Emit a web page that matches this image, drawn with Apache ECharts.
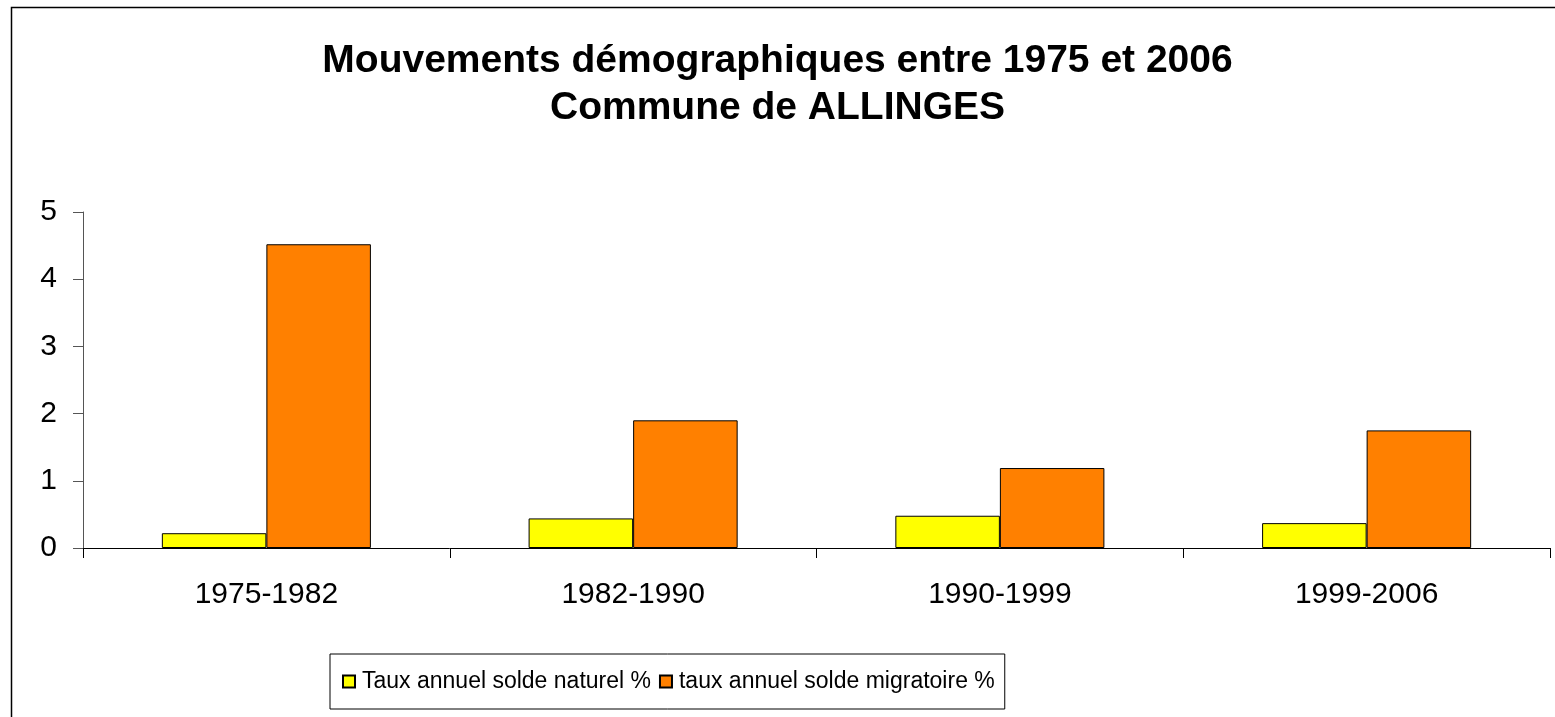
<!DOCTYPE html>
<html>
<head>
<meta charset="utf-8">
<script src="https://cdn.jsdelivr.net/npm/echarts@6/dist/echarts.min.js"></script>
<style>
  html, body { margin: 0; padding: 0; background: #fff; }
  #chart { width: 1555px; height: 717px; }
</style>
</head>
<body>
<div id="chart"></div>
<script>
  // periods on the x axis
  var periods = ['1975-1982', '1982-1990', '1990-1999', '1999-2006']
  // annual rates
  var natural = [0.22, 0.44, 0.48, 0.37]
  var migratory = [4.52, 1.90, 1.19, 1.75]
  var seriesNames = ['Taux annuel solde naturel %', 'taux annuel solde migratoire %']

  var font = 'Liberation Sans, Arial, sans-serif'
  var myChart = echarts.init(document.getElementById('chart'))

  var option = {
    animation: false,
    backgroundColor: '#fff',
    title: {
      text: 'Mouvements démographiques entre 1975 et 2006\nCommune de ALLINGES',
      left: 'center',
      top: 33,
      textStyle: {
        fontFamily: font,
        fontSize: 39,
        fontWeight: 'bold',
        color: '#000',
        lineHeight: 47
      }
    },
    graphic: [
      {
        type: 'rect',
        shape: { x: 11.5, y: 7.5, width: 1700, height: 900 },
        style: { fill: 'none', stroke: '#000', lineWidth: 1.5 },
        z: -1
      }
    ],
    legend: {
      data: seriesNames,
      left: 330,
      top: 654,
      padding: [16, 10, 16, 12],
      itemGap: 8,
      borderColor: '#000',
      borderWidth: 1,
      itemWidth: 12,
      itemHeight: 12,
      icon: 'rect',
      textStyle: { fontFamily: font, fontSize: 23, color: '#000', padding: [0, 0, 0, 2] }
    },
    grid: {
      left: 83,
      right: 5,
      top: 212,
      bottom: 169
    },
    xAxis: {
      type: 'category',
      data: periods,
      axisLine: { lineStyle: { color: '#000', width: 1 } },
      axisTick: { show: true, alignWithLabel: false, length: 10, lineStyle: { color: '#000' } },
      axisLabel: { fontFamily: font, fontSize: 30, color: '#000', margin: 32 }
    },
    yAxis: {
      type: 'value',
      min: 0,
      max: 5,
      interval: 1,
      splitLine: { show: false },
      axisLine: { show: true, lineStyle: { color: '#555', width: 1 } },
      axisTick: { show: true, length: 10, lineStyle: { color: '#555' } },
      axisLabel: { fontFamily: font, fontSize: 30, color: '#000', margin: 26 }
    },
    series: [
      {
        name: seriesNames[0],
        type: 'bar',
        data: natural,
        barGap: '0%',
        barCategoryGap: '43%',
        itemStyle: { color: '#ffff00', borderColor: '#000', borderWidth: 1 }
      },
      {
        name: seriesNames[1],
        type: 'bar',
        data: migratory,
        barGap: '0%',
        barCategoryGap: '43%',
        itemStyle: { color: '#ff8000', borderColor: '#000', borderWidth: 1 }
      }
    ]
  }

  myChart.setOption(option)
</script>
</body>
</html>
